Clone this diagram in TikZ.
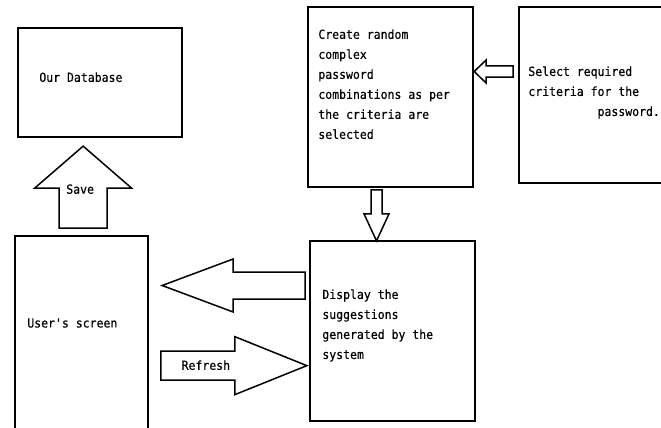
\documentclass[tikz,border=0pt]{standalone}
\usepackage{fontspec}
\newfontfamily\diagramfont[FakeStretch=0.92, FakeBold=0.5]{DejaVu Sans Mono}
\usetikzlibrary{positioning,calc}

\tikzset{
  box/.style={draw, line width=1.7pt, inner sep=0pt},
  boxtext/.style={font=\diagramfont\fontsize{12.5}{20}\selectfont, align=left, inner sep=0pt},
  arrowline/.style={draw, line width=1.5pt, line join=miter}
}
% start, angle, length, shaft half width, head length, head half width
\newcommand{\blockarrow}[6]{%
  \draw[arrowline, shift={#1}, rotate=#2]
    (0,-#4) -- ({#3-#5},-#4) -- ({#3-#5},-#6) -- (#3,0) -- ({#3-#5},#6)
    -- ({#3-#5},#4) -- (0,#4) -- cycle;}

\begin{document}
\begin{tikzpicture}[x=1pt, y=-1pt]
  \useasboundingbox (0,0) rectangle (661,428);
  \clip (0,0) rectangle (661,428);

  % boxes
  \node[box, minimum width=164pt, minimum height=109pt] (db) at (100,82.5) {};
  \node[box, minimum width=165pt, minimum height=180pt] (create) at (390.5,97) {};
  \node[box, minimum width=160pt, minimum height=176pt] (select) at (599,95) {};
  \node[box, minimum width=165pt, minimum height=180pt] (display) at (392.5,331) {};
  \node[box, minimum width=133pt, minimum height=200pt] (user) at (81.5,336) {};

  % texts
  \node[boxtext, below right=45pt and 22pt of db.north west] (dbtext) {Our Database};
  \node[boxtext, below right=23pt and 11pt of create.north west] (createtext)
    {Create random\\complex\\password\\combinations as per\\the criteria are\\selected};
  \node[boxtext, below right=60pt and 10pt of select.north west] (selecttext)
    {Select required\\criteria for the\\\phantom{0000000000}password.};
  \node[boxtext, below right=49pt and 13pt of display.north west] (displaytext)
    {Display the\\suggestions\\generated by the\\system};
  \node[boxtext, below right=83pt and 13pt of user.north west] (usertext) {User's screen};

  % block arrows
  \blockarrow{($(user.north west)+(69,-7)$)}{90}{82}{24}{42}{48.5}
  \blockarrow{($(display.west)+(-4,-45.5)$)}{180}{143}{13.5}{71}{26.5}
  \blockarrow{($(user.north east)+(12,130.5)$)}{0}{146}{14.5}{72}{29}
  \blockarrow{($(create.south)+(-14,2)$)}{270}{51}{5.5}{27}{12.5}
  \blockarrow{($(select.west)+(-5,-23.5)$)}{180}{39}{5.5}{12}{11.5}

  % arrow labels
  \node[boxtext] (savelabel) at ($(user.north west)+(66,-46)$) {Save};
  \node[boxtext] (refreshlabel) at ($(user.north east)+(57,130)$) {Refresh};
\end{tikzpicture}
\end{document}
